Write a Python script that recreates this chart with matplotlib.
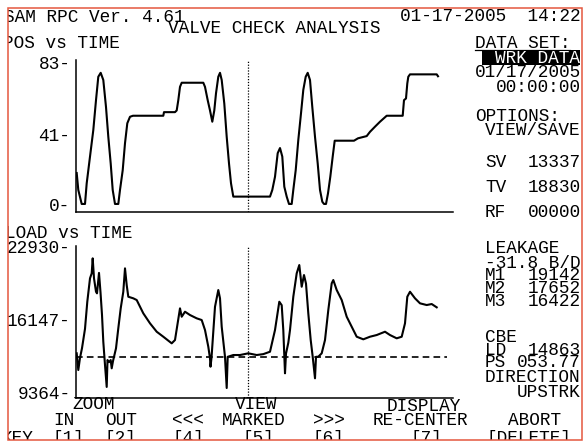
import matplotlib
matplotlib.use('Agg')
import matplotlib.pyplot as plt
from matplotlib.patches import Rectangle
from matplotlib.lines import Line2D

W, H = 587, 443
FS = 12.8
plt.rcParams['font.family'] = ['Liberation Mono', 'DejaVu Sans Mono']
plt.rcParams['font.size'] = FS

# ---------------- data ----------------
pos_t = [0.7, 2.3, 5.7, 9, 10.7, 14, 17.3, 20, 22.3, 24.7, 27.3, 30, 32.3, 34.7, 36.7, 39, 42.3,
         44, 46.7, 49, 51.3, 54, 57, 87.3, 88, 99, 100.7, 102.3, 104, 105.7, 127.3, 129, 131.7,
         134, 136.3, 138.3, 140, 142.3, 144, 145.7, 148.3, 150.7, 153, 155, 157.3, 194, 196.3,
         199, 201.7, 204, 206.3, 208.3, 210.7, 213, 215.7, 217.3, 219.7, 222.3, 225, 227.3,
         229.7, 231.7, 234, 236.3, 239, 241.7, 244, 246.3, 248, 250, 252, 254.3, 256.7, 258.7,
         278, 282, 290.7, 294, 299, 304, 310.7, 326.7, 328, 330, 331.3, 332.3, 334, 360.7, 362]
pos_v = [18.4, 8.5, 0.3, 0.3, 12.4, 28, 43.5, 61, 74.7, 77, 72.8, 57, 39.6, 24, 8.5, 0.3, 0.3,
         8.5, 20, 35.8, 47.5, 51.3, 51.9, 51.9, 54, 54, 55, 61, 68.8, 71.2, 71.2, 68.8, 61,
         55, 48.4, 55, 65, 74.7, 77, 72.8, 59, 39.6, 24, 12.4, 4.6, 4.6, 8.5,
         16.2, 30, 33, 28, 10.4, 4.6, 0.3, 0.3, 8.5, 20, 37.7, 53.3, 67,
         74.7, 77, 72.8, 57, 39.6, 24, 8.5, 1.6, 0.3, 0.3, 6.5, 16.2, 28, 37.3,
         37.3, 38.7, 40, 42.5, 45.5, 48.4, 51.9, 51.9, 61, 62, 70.8, 74.7, 76.1, 76.1, 75]

load_t = [0.7, 2.3, 4, 6, 9, 11.3, 14, 15.7, 16.7, 18, 20, 21, 23, 24.5, 26, 27.3, 29, 30.7,
          31.5, 33, 34.7, 35.7, 37, 40, 42.3, 44.7, 47.3, 49, 50.7, 52.3, 57.3, 60.7, 67.3,
          74, 80.7, 87.3, 95.7, 99, 104, 105.7, 109, 114, 120.7, 125.7, 129, 132.3, 134,
          134.5, 135.5, 139, 142.3, 144, 145.7, 149, 150.7, 151.7, 157.3, 164, 172.3, 180.7,
          187.3, 194, 199, 203.3, 205.7, 207.3, 209, 210, 212.3, 214, 217.3, 220.7, 223.3,
          225.7, 228, 230, 232.3, 234.7, 236.7, 239, 240, 242.3, 245.7, 249, 252.3, 255.7,
          257.3, 260.7, 265.7, 270.7, 275.7, 280.7, 287.3, 294, 300.7, 309, 314, 320.7,
          325.7, 329, 331.3, 334, 339, 344, 350.7, 355.7, 360.7]
load_v = [13025, 11473, 12600, 13500, 15300, 17820, 19994, 20459, 21853, 20000, 18749, 18600,
          20500, 18700, 16600, 14103, 11938, 9900, 12400, 12200, 12400, 11631, 12300, 13490,
          15348, 17200, 18749, 20923, 19371, 18284, 18136, 17978, 16742, 15813, 15032, 14568,
          13954, 14261, 17207, 16426, 16891, 16584, 16277, 16119, 15190, 13638, 12560, 11780,
          12600, 17350, 18907, 18136, 15500, 12709, 9801, 12700, 12867, 12867, 13025, 12867,
          12950, 13174, 15190, 17820, 17500, 15190, 11167, 13000, 14000, 15190, 18284, 20459,
          21230, 19214, 20301, 19500, 16742, 14261, 12709, 10702, 12700, 12709, 13025, 14261,
          17048, 19529, 19836, 18907, 17978, 16426, 15497, 14568, 14326, 14568, 14725, 15032,
          14725, 14419, 14568, 15813, 18284, 18749, 18136, 17671, 17513, 17606, 17299]

pos_ticks = [0, 41, 83]
load_ticks = [9364, 16147, 22930]
marker_t = 172
load_ref = 12709

# ---------------- figure ----------------
fig = plt.figure(figsize=(W / 100, H / 100), dpi=100)
fig.patch.set_facecolor('white')


def fx(x):
    return x / W


def fy(y):
    return 1 - y / H


def make_ax(top, bottom, ylim, ticks):
    ax = fig.add_axes([fx(76), fy(bottom), (453 - 76) / W, (bottom - top) / H])
    ax.set_xlim(0, 377)
    ax.set_ylim(*ylim)
    for s in ('top', 'right'):
        ax.spines[s].set_visible(False)
    for s in ('left', 'bottom'):
        ax.spines[s].set_linewidth(1.1)
        ax.spines[s].set_color('black')
    ax.set_xticks([])
    ax.set_yticks(ticks)
    ax.set_yticklabels([f'{v}-' for v in ticks])
    ax.tick_params(axis='y', length=0, pad=4.0, labelsize=FS)
    ax.patch.set_alpha(0)
    return ax


ax1 = make_ax(60, 212, (-4.4, 84.5), pos_ticks)
ax1.plot(pos_t, pos_v, color='black', lw=1.5)
ax1.axvline(marker_t, color='black', lw=0.9, linestyle=(0, (1, 1.3)))

ax2 = make_ax(246, 398.3, (8844, 23000), load_ticks)
ax2.plot(load_t, load_v, color='black', lw=1.5)
ax2.axvline(marker_t, color='black', lw=0.9, linestyle=(0, (1, 1.3)))
ax2.plot([0, 371], [load_ref, load_ref], color='black', lw=1.2, linestyle=(0, (4, 2.5)))


def t(x, y, s, ha='left', color='black'):
    fig.text(fx(x), fy(y), s, ha=ha, va='baseline', color=color, fontsize=FS)


# header
t(4, 21.5, 'SAM RPC Ver. 4.61')
t(581, 21, '01-17-2005  14:22', ha='right')
t(168, 33.3, 'VALVE CHECK ANALYSIS')
t(3, 48.3, 'POS vs TIME')
t(5, 238.3, 'LOAD vs TIME')

# right panel
t(475, 48, 'DATA SET:')
fig.add_artist(Line2D([fx(475), fx(570)], [fy(50), fy(50)], color='black', lw=0.9))
fig.add_artist(Rectangle((fx(481.7), fy(65)), (580 - 481.7) / W, 15 / H,
                         transform=fig.transFigure, facecolor='black', edgecolor='none'))
t(580, 63, 'WRK DATA', ha='right', color='white')
t(581, 76.7, '01/17/2005', ha='right')
t(581, 91.7, '00:00:00', ha='right')
t(475, 121, 'OPTIONS:')
t(581, 135, 'VIEW/SAVE', ha='right')
t(485, 166.7, 'SV')
t(581, 166.7, '13337', ha='right')
t(485, 191.7, 'TV')
t(581, 191.7, '18830', ha='right')
t(485, 216.7, 'RF')
t(581, 216.7, '00000', ha='right')
t(485, 253, 'LEAKAGE')
t(581, 267.5, '-31.8 B/D', ha='right')
t(485, 280, 'M1')
t(581, 280, '19142', ha='right')
t(485, 293, 'M2')
t(581, 293, '17652', ha='right')
t(485, 306.5, 'M3')
t(581, 306.5, '16422', ha='right')
t(485, 341.7, 'CBE')
t(485, 355, 'LD')
t(581, 355, '14863', ha='right')
t(485, 366.7, 'PS')
t(581, 366.7, '053.77', ha='right')
t(485, 381.7, 'DIRECTION')
t(581, 396.7, 'UPSTRK', ha='right')

# bottom menu
t(72, 409.3, 'ZOOM')
t(235, 409.3, 'VIEW')
t(387, 411, 'DISPLAY')
t(53, 425, 'IN')
t(105, 425, 'OUT')
t(172, 425, '<<<')
t(222, 425, 'MARKED')
t(313, 425, '>>>')
t(373, 425, 'RE-CENTER')
t(508, 425, 'ABORT')
t(2, 443, 'KEY')
t(53, 443, '[1]')
t(105, 443, '[2]')
t(172, 443, '[4]')
t(243, 443, '[5]')
t(313, 443, '[6]')
t(410, 443, '[7]')
t(487, 443, '[DELETE]')

# white masks outside the red frame, then the frame
for (x0, y0, x1, y1) in [(0, 0, 8, H), (0, 0, W, 7.5), (0, 440, W, H), (581.7, 0, W, H)]:
    fig.add_artist(Rectangle((fx(x0), fy(y1)), (x1 - x0) / W, (y1 - y0) / H,
                             transform=fig.transFigure, facecolor='white',
                             edgecolor='none', zorder=20))
fig.add_artist(Rectangle((fx(8), fy(440)), (581.7 - 8) / W, (440 - 7.5) / H,
                         transform=fig.transFigure, fill=False, edgecolor='#e4573f',
                         lw=1.1, zorder=21))

fig.savefig('out.png', dpi=100, facecolor='white')
